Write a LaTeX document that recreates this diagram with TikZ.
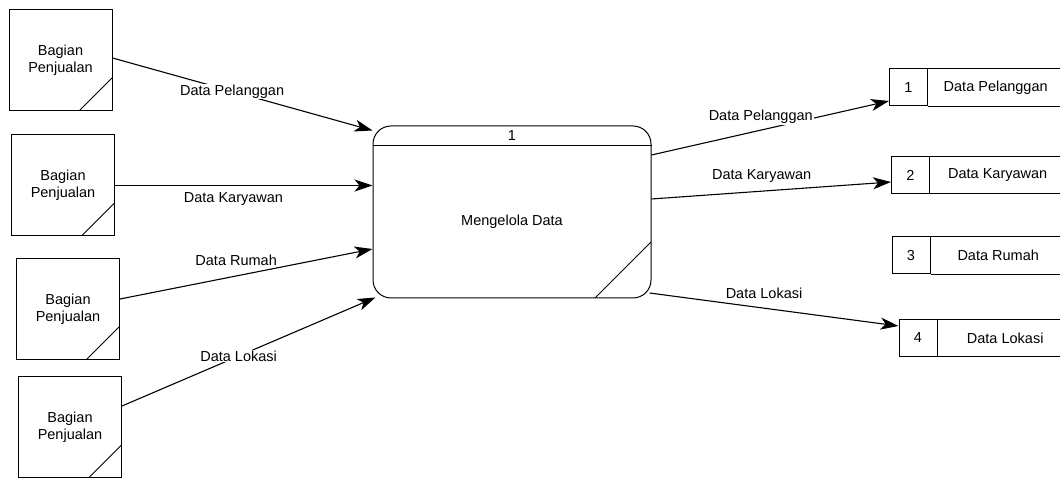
\documentclass[tikz,border=0pt]{standalone}
\usepackage{fontspec}
\setmainfont{Liberation Sans}
\usetikzlibrary{arrows.meta, positioning, calc}

\begin{document}
\begin{tikzpicture}[
        x=1pt, y=1pt,
        font=\fontsize{14.5}{17}\selectfont,
        entity/.style={rectangle, draw, line width=1pt, minimum width=103pt, minimum height=101pt, align=center, inner sep=0pt,
            path picture={\draw[line width=1pt] ([yshift=33pt]path picture bounding box.south east) -- ([xshift=-33pt]path picture bounding box.south east);}},
        process/.style={rectangle, draw, line width=1pt, rounded corners=18pt, minimum width=278pt, minimum height=172pt, inner sep=0pt,
            path picture={\draw[line width=1pt] ([yshift=56pt]path picture bounding box.south east) -- ([xshift=-56pt]path picture bounding box.south east);}},
        storeid/.style={rectangle, draw, line width=1pt, minimum width=38pt, minimum height=37pt, inner sep=0pt},
        storename/.style={rectangle, minimum width=135pt, minimum height=37pt, inner sep=0pt},
        storeline/.style={line width=1pt},
        flow/.style={-{Stealth[length=18pt, width=12pt, inset=5pt]}, line width=1.1pt},
        lbl/.style={fill=white, inner sep=1pt}
    ]
        \useasboundingbox (0,0) rectangle (1060,478);

        \node[entity] (bp1) at (60.5,417.5) {Bagian\\Penjualan};
        \node[entity] (bp2) at (63,292.5) {Bagian\\Penjualan};
        \node[entity] (bp3) at (68,169) {Bagian\\Penjualan};
        \node[entity] (bp4) at (70,50.5) {Bagian\\Penjualan};

        \node[process] (proses) at (512,266) {};
        \draw[storeline] ([yshift=-20pt]proses.north west) -- ([yshift=-20pt]proses.north east);
        \node (nomor) at ([yshift=-10pt]proses.north) {1};
        \node (nama) at ([yshift=-10pt]proses.center) {Mengelola Data};

        \node[storeid] (id1) at (908.5,390.5) {1};
        \node[storename, right=0pt of id1] (ds1) {Data Pelanggan};
        \draw[storeline] (ds1.north west) -- (ds1.north east) (ds1.south west) -- (ds1.south east);
        \node[storeid] (id2) at (910.5,303) {2};
        \node[storename, right=0pt of id2] (ds2) {Data Karyawan};
        \draw[storeline] (ds2.north west) -- (ds2.north east) (ds2.south west) -- (ds2.south east);
        \node[storeid] (id3) at (911,222.5) {3};
        \node[storename, right=0pt of id3] (ds3) {Data Rumah};
        \draw[storeline] (ds3.north west) -- (ds3.north east) (ds3.south west) -- (ds3.south east);
        \node[storeid] (id4) at (918,140) {4};
        \node[storename, right=0pt of id4] (ds4) {Data Lokasi};
        \draw[storeline] (ds4.north west) -- (ds4.north east) (ds4.south west) -- (ds4.south east);

        \draw[flow] ([yshift=2.5pt]bp1.east) -- node[lbl, pos=0.46] {Data Pelanggan} ([yshift=-5pt]proses.north west);
        \draw[flow] (bp2.east) -- node[lbl, pos=0.46, yshift=-14pt] {Data Karyawan} (proses.west |- bp2.east);
        \draw[flow] ([yshift=10pt]bp3.east) -- node[lbl, pos=0.46, yshift=16pt] {Data Rumah} ([yshift=-37pt]proses.west);
        \draw[flow] ([yshift=21.5pt]bp4.east) -- node[lbl, pos=0.46] {Data Lokasi} ([shift={(3pt,1pt)}]proses.south west);

        \draw[flow] ([yshift=57pt]proses.east) -- node[lbl, pos=0.46, yshift=13pt] {Data Pelanggan} ([yshift=-13.5pt]id1.west);
        \draw[flow] ([yshift=13pt]proses.east) -- node[lbl, pos=0.46, yshift=15pt] {Data Karyawan} ([yshift=-7pt]id2.west);
        \draw[flow] ([shift={(-2pt,-81pt)}]proses.east) -- node[lbl, pos=0.46, yshift=15pt] {Data Lokasi} ([yshift=12pt]id4.west);
    \end{tikzpicture}
\end{document}
